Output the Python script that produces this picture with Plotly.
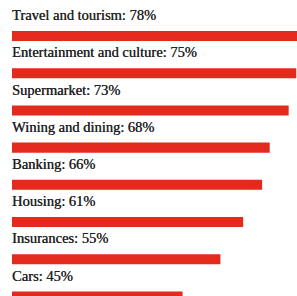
import plotly.graph_objects as go

categories = ["Travel and tourism", "Entertainment and culture", "Supermarket",
              "Wining and dining", "Banking", "Housing", "Insurances", "Cars"]
values = [78, 75, 73, 68, 66, 61, 55, 45]

fig = go.Figure(go.Bar(
    x=values, y=categories, orientation="h",
    marker=dict(color="#E42A1D", line=dict(width=0)),
    width=0.27, hoverinfo="skip",
))

label_offset = 0.56  # label sits above its bar, in category units
for i, (c, v) in enumerate(zip(categories, values)):
    fig.add_annotation(x=0, y=i - label_offset, xref="x", yref="y", text=f"{c}: {v}%",
                       showarrow=False, xanchor="left", yanchor="middle",
                       xshift=-2,
                       font=dict(family="Liberation Serif", size=14.5, color="#222222",
                                 shadow="0.3px 0 0 #333333"))

fig.update_layout(
    width=297, height=296,
    margin=dict(l=12, r=0, t=0, b=0),
    paper_bgcolor="white", plot_bgcolor="white",
    showlegend=False,
    xaxis=dict(range=[0, 75.2], visible=False, fixedrange=True),
    yaxis=dict(range=[6.989, -0.968], visible=False, fixedrange=True,
               categoryorder="array", categoryarray=categories),
)

fig.write_html("out.html", config={"displayModeBar": False},
               post_script="document.body.style.margin='0';document.body.style.overflow='hidden';")
